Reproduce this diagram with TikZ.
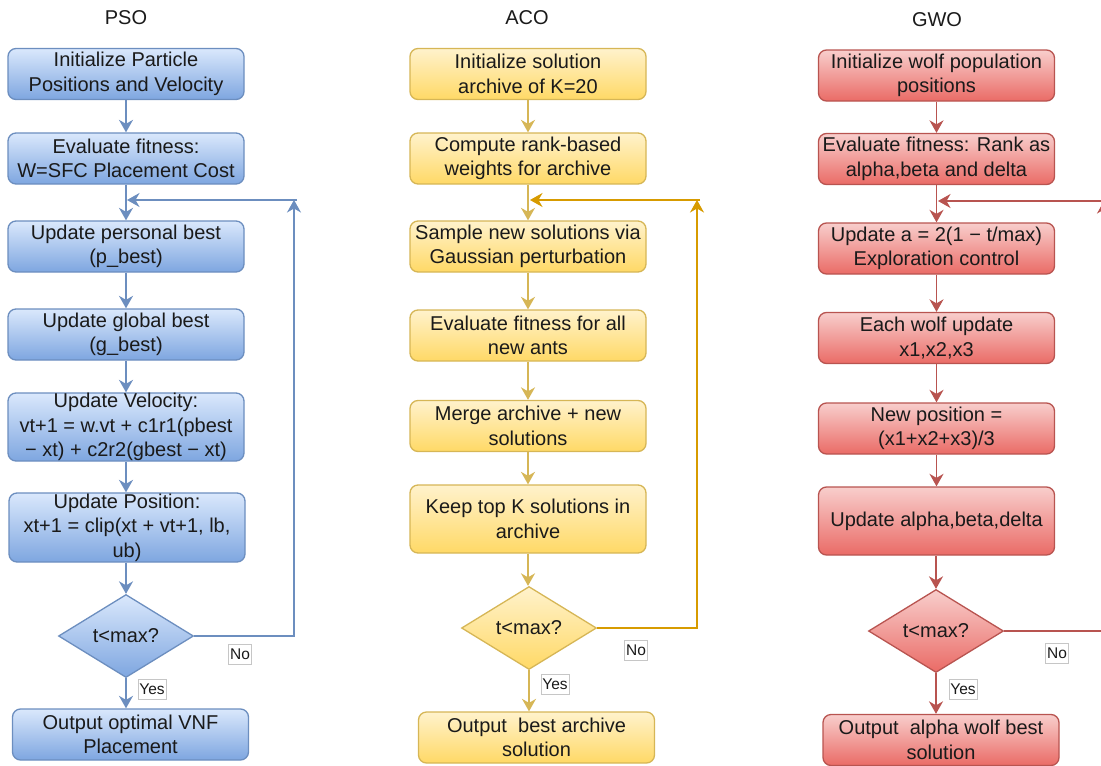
\documentclass[tikz,border=0pt]{standalone}
\usepackage{fontspec}
\setmainfont{Liberation Sans}
\usetikzlibrary{shapes.geometric,arrows.meta,calc}
\definecolor{pFa}{HTML}{DAE8FC}\definecolor{pFb}{HTML}{7EA6E0}\definecolor{pD}{HTML}{6C8EBF}
\definecolor{aFa}{HTML}{FFF2CC}\definecolor{aFb}{HTML}{FFD966}\definecolor{aD}{HTML}{D6B656}\definecolor{aL}{HTML}{D79B00}
\definecolor{gFa}{HTML}{F8CECC}\definecolor{gFb}{HTML}{EA6B66}\definecolor{gD}{HTML}{B85450}
\definecolor{txt}{HTML}{1A1A1A}
\tikzset{
  x=1pt, y=-1pt,
  box/.style={rectangle, rounded corners=8pt, line width=1.3pt, minimum width=236pt, minimum height=51pt,
    inner sep=0pt, align=center, font=\fontsize{20}{24.5}\selectfont, text=txt},
  psob/.style={box, draw=pD, top color=pFa, bottom color=pFb},
  acob/.style={box, draw=aD, top color=aFa, bottom color=aFb},
  gwob/.style={box, draw=gD, top color=gFa, bottom color=gFb},
  dec/.style={diamond, minimum width=135pt, minimum height=83pt, inner sep=0pt, line width=1.3pt,
    font=\fontsize{20}{24}\selectfont, text=txt},
  psod/.style={dec, draw=pD, top color=pFa, bottom color=pFb},
  acod/.style={dec, draw=aD, top color=aFa, bottom color=aFb},
  gwod/.style={dec, draw=gD, top color=gFa, bottom color=gFb},
  arr/.style={-{Stealth[length=12.5pt,width=14pt,inset=4pt]}, line width=1.7pt},
  lab/.style={draw=gray!45, fill=white, inner sep=1.5pt, minimum height=20pt, font=\fontsize{15.5}{18}\selectfont, text=txt},
  ttl/.style={font=\fontsize{20}{24}\selectfont, text=txt}
}
\begin{document}
\begin{tikzpicture}
\useasboundingbox (0,0) rectangle (1101,766);
% titles
\node[ttl] (tp) at (126,18) {PSO};
\node[ttl] (ta) at (527,18) {ACO};
\node[ttl] (tg) at (937,20) {GWO};
% PSO
\node[psob] (p1) at (126,74) {Initialize Particle\\Positions and Velocity};
\node[psob] (p2) at (126,158.5) {Evaluate fitness:\\W=SFC Placement Cost};
\node[psob] (p3) at (126,246.5) {Update personal best\\(p\_best)};
\node[psob] (p4) at (126,334.5) {Update global best\\(g\_best)};
\node[psob, minimum height=68pt] (p5) at (126,427) {Update Velocity:\\vt+1 = w.vt + c1r1(pbest\\− xt) + c2r2(gbest − xt)};
\node[psob, minimum height=69pt] (p6) at (127,527.5) {Update Position:\\xt+1 = clip(xt + vt+1, lb,\\ub)};
\node[psod] (pd) at (126,636) {t<max?};
\node[psob] (po) at (130.5,734.5) {Output optimal VNF\\Placement};
\draw[arr,pD] (p1) -- (p2);
\draw[arr,pD] (p2.south) -- (p2.south |- p3.north);
\draw[arr,pD] (p3.south) -- (p3.south |- p4.north);
\draw[arr,pD] (p4.south) -- (p4.south |- p5.north);
\draw[arr,pD] (p5.south) -- (p5.south |- p6.north);
\draw[arr,pD] (p6.south -| pd.north) -- (pd.north);
\draw[arr,pD] (pd.south) -- (pd.south |- po.north);
\coordinate (pc) at (294,200);
\coordinate (ps) at (297,200);
\coordinate (pj) at (127,200);
\draw[arr,pD] (pd.east) -| (pc);
\draw[arr,pD] (ps) -- (pj);
\node[lab] (pno) at (240,654) {No};
\node[lab] (pyes) at (152,689) {Yes};
% ACO
\node[acob] (a1) at (528,74) {Initialize solution\\archive of K=20};
\node[acob] (a2) at (528,158.5) {Compute rank-based\\weights for archive};
\node[acob] (a3) at (528,246.5) {Sample new solutions via\\Gaussian perturbation};
\node[acob] (a4) at (528,335.5) {Evaluate fitness for all\\new ants};
\node[acob] (a5) at (528,426) {Merge archive + new\\solutions};
\node[acob, minimum height=68pt] (a6) at (528,519) {Keep top K solutions in\\archive};
\node[acod] (ad) at (529,628) {t<max?};
\node[acob] (ao) at (536.5,737.5) {Output\ \ best archive\\solution};
\draw[arr,aD] (a1) -- (a2);
\draw[arr,aD] (a2.south) -- (a2.south |- a3.north);
\draw[arr,aD] (a3.south) -- (a3.south |- a4.north);
\draw[arr,aD] (a4.south) -- (a4.south |- a5.north);
\draw[arr,aD] (a5.south) -- (a5.south |- a6.north);
\draw[arr,aD] (a6.south) -- (a6.south |- ad.north);
\draw[arr,aD] (ad.south) -- (ad.south |- ao.north);
\coordinate (ac) at (697,200);
\coordinate (as) at (700,200);
\coordinate (aj) at (530,200);
\draw[arr,aL] (ad.east) -| (ac);
\draw[arr,aL] (as) -- (aj);
\node[lab] (ano) at (636,650) {No};
\node[lab] (ayes) at (555,684) {Yes};
% GWO
\node[gwob] (g1) at (936.5,75.5) {Initialize wolf population\\positions};
\node[gwob] (g2) at (936.5,159) {Evaluate fitness: Rank as\\alpha,beta and delta};
\node[gwob] (g3) at (936.5,248.5) {Update a = 2(1 − t/max)\\Exploration control};
\node[gwob] (g4) at (936.5,338) {Each wolf update\\x1,x2,x3};
\node[gwob] (g5) at (936.5,428.5) {New position =\\(x1+x2+x3)/3};
\node[gwob, minimum height=68pt] (g6) at (936.5,521) {Update alpha,beta,delta};
\node[gwod] (gd) at (936,631) {t<max?};
\node[gwob] (go) at (941,740) {Output\ \ alpha wolf best\\solution};
\draw[arr,gD] (g1) -- (g2);
\draw[arr,gD] (g2.south) -- (g2.south |- g3.north);
\draw[arr,gD] (g3.south) -- (g3.south |- g4.north);
\draw[arr,gD] (g4.south) -- (g4.south |- g5.north);
\draw[arr,gD] (g5.south) -- (g5.south |- g6.north);
\draw[arr,gD] (g6.south -| gd.north) -- (gd.north);
\draw[arr,gD] (gd.south) -- (gd.south |- go.north);
\coordinate (gc) at (1104,201);
\coordinate (gs) at (1107,201);
\coordinate (gj) at (938,201);
\draw[arr,gD] (gd.east) -| (gc);
\draw[arr,gD] (gs) -- (gj);
\node[lab] (gno) at (1057,653) {No};
\node[lab] (gyes) at (963,689) {Yes};
\end{tikzpicture}
\end{document}
